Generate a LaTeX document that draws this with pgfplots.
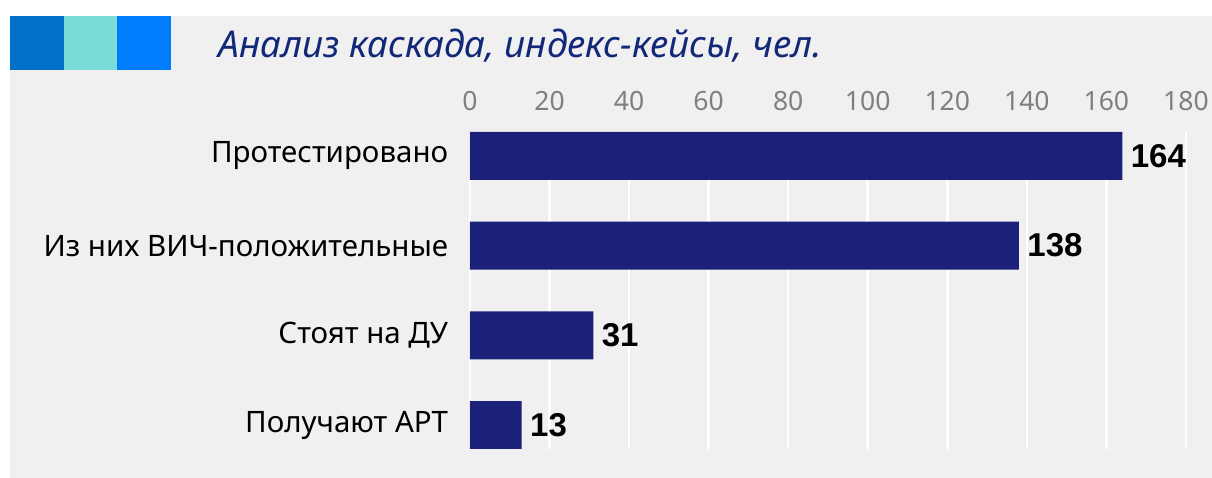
\documentclass[border=0pt]{standalone}
\usepackage{pgfplots}
\pgfplotsset{compat=1.18}
\usepackage{fontspec}
\setmainfont{Noto Sans}
\newfontfamily\valfont{Liberation Sans}
\definecolor{bg}{HTML}{F0F0F0}
\definecolor{barc}{HTML}{1B2179}
\definecolor{sq1}{HTML}{0070C8}
\definecolor{sq2}{HTML}{79DCD6}
\definecolor{sq3}{HTML}{007CFF}
\definecolor{titlec}{HTML}{14287A}
\definecolor{tickc}{HTML}{7F7F7F}
\begin{document}
\begin{tikzpicture}[x=1pt,y=1pt]
\fill[white] (0,0) rectangle (1212,-478);
\fill[bg] (10,-16) rectangle (1212,-478);
\fill[sq1] (10,-16) rectangle (64,-70);
\fill[sq2] (64,-16) rectangle (117,-70);
\fill[sq3] (117,-16) rectangle (171,-70);
\node[anchor=base west, text=titlec, inner sep=0pt, font=\fontsize{37}{44}\selectfont\itshape] at (218,-58) {Анализ каскада, индекс-кейсы, чел.};
\begin{axis}[
  at={(470pt,-449pt)}, anchor=south west,
  scale only axis, width=716pt, height=317pt,
  xmin=0, xmax=180, ymin=-0.267, ymax=3.267,
  y dir=reverse,
  xbar, bar width=48pt,
  axis line style={draw=none},
  tick style={draw=none},
  xtick={0,20,...,180},
  xticklabel pos=top,
  xmajorgrids, grid style={white, line width=2.5pt},
  ytick={0,1,2,3},
  yticklabels={Протестировано, Из них ВИЧ-положительные, Стоят на ДУ, Получают АРТ},
  /pgf/number format/assume math mode=true,
  xticklabel style={text=tickc, font=\fontsize{26.5}{30}\selectfont, yshift=18pt},
  yticklabel style={text=black, font=\fontsize{29.5}{34}\selectfont, xshift=-14pt},
  nodes near coords,
  nodes near coords style={font=\fontsize{33}{38}\selectfont\valfont\bfseries, text=black, anchor=west, xshift=5pt},
]
\addplot[fill=barc, draw=none, bar shift=0pt] coordinates {(164,0) (138,1) (31,2) (13,3)};
\end{axis}
\end{tikzpicture}
\end{document}
